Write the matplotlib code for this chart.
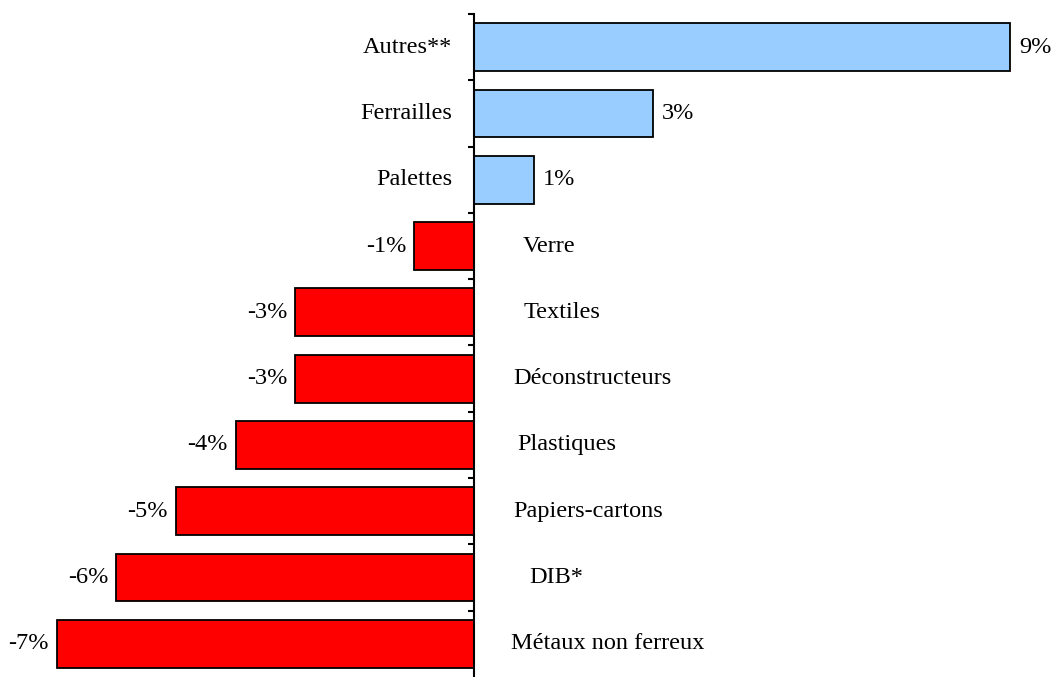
import numpy as np
import matplotlib
matplotlib.use("Agg")
from matplotlib import pyplot as plt

categories = ["Autres**", "Ferrailles", "Palettes", "Verre", "Textiles",
              "Déconstructeurs", "Plastiques", "Papiers-cartons", "DIB*",
              "Métaux non ferreux"]
values = [9, 3, 1, -1, -3, -3, -4, -5, -6, -7]
value_labels = ["9%", "3%", "1%", "-1%", "-3%", "-3%", "-4%", "-5%", "-6%", "-7%"]

# left edge (pixels right of the zero axis) for the names of the negative bars
neg_name_offsets = [49, 50, 39, 43, 39, 55, 37]

plt.rcParams['font.family'] = ['Liberation Serif', 'DejaVu Serif']
fs = 17.5

fig = plt.figure(figsize=(10.54, 6.77), dpi=100)
ax = fig.add_axes([0, 0, 1, (677 - 14) / 677])

y = np.arange(len(categories))
colors = ['#99CCFF' if v > 0 else '#FF0000' for v in values]
ax.barh(y, values, height=0.72, color=colors, edgecolor='black', linewidth=1.3)

ax.set_xlim(-474 / 59.6, 580 / 59.6)
ax.set_ylim(len(categories) - 0.5, -0.5)

for s in ['top', 'right', 'bottom']:
    ax.spines[s].set_visible(False)
ax.spines['left'].set_position(('data', 0))
ax.spines['left'].set_linewidth(1.5)
ax.set_xticks([])
ax.set_yticks(np.arange(-0.5, len(categories) - 1, 1.0))
ax.set_yticklabels([])
ax.tick_params(axis='y', direction='out', length=4.5, width=1.5)

k = 0
for i, (name, v, lab) in enumerate(zip(categories, values, value_labels)):
    if v > 0:
        ax.annotate(name, (0, i), xytext=(-22, 0), textcoords='offset pixels',
                    ha='right', va='center', fontsize=fs)
        ax.annotate(lab, (v, i), xytext=(9, 0), textcoords='offset pixels',
                    ha='left', va='center', fontsize=fs)
    else:
        ax.annotate(name, (0, i), xytext=(neg_name_offsets[k], 0),
                    textcoords='offset pixels', ha='left', va='center', fontsize=fs)
        k += 1
        ax.annotate(lab, (v, i), xytext=(-8, 0), textcoords='offset pixels',
                    ha='right', va='center', fontsize=fs)

fig.savefig("out.png", dpi=100)
